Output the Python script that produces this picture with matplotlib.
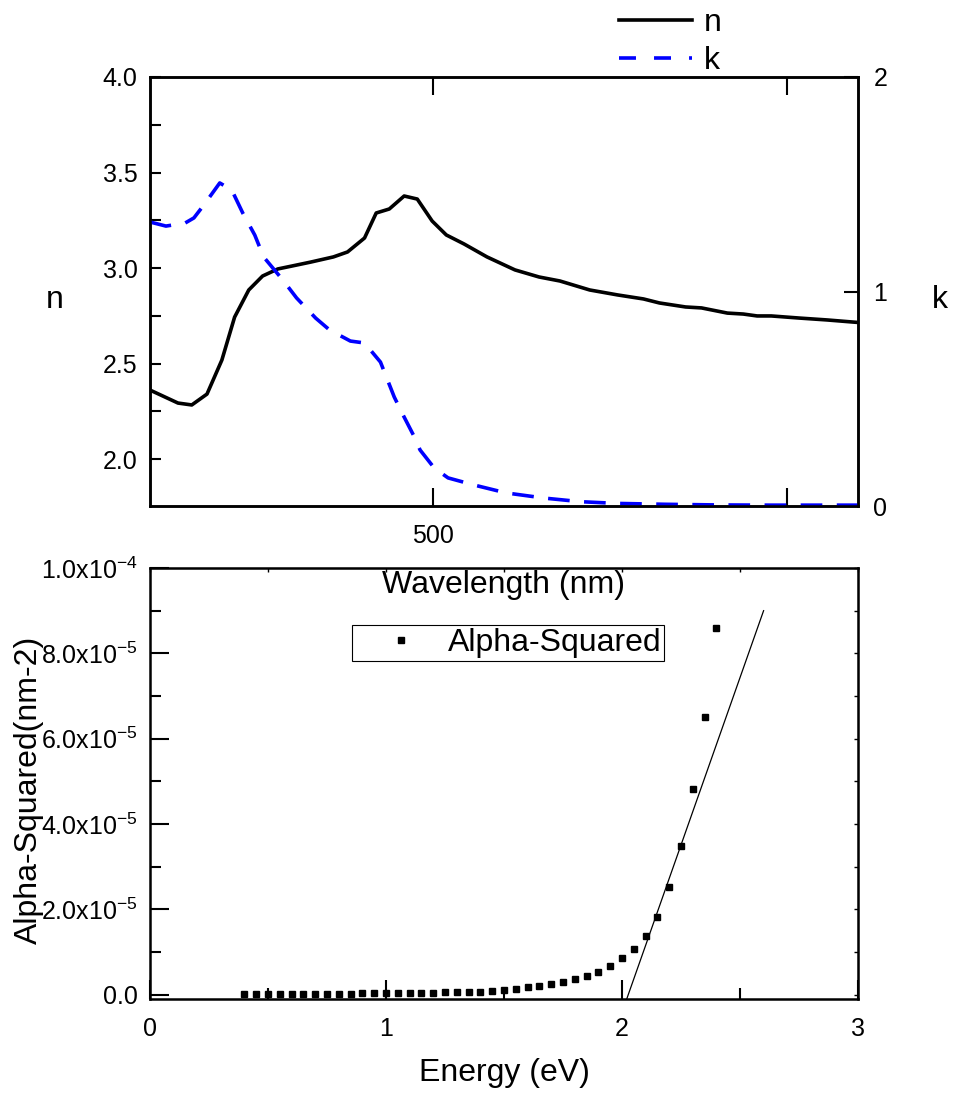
import matplotlib
matplotlib.use('Agg')
import matplotlib.pyplot as plt
from matplotlib.lines import Line2D

plt.rcParams['font.family'] = ['Liberation Sans', 'DejaVu Sans']
plt.rcParams['mathtext.default'] = 'regular'

# refractive index n vs wavelength (nm)
wl_n = [420.0, 427.9, 431.8, 436.1, 440.3, 443.9, 447.9, 451.8, 456.1, 460.0,
        465.4, 471.8, 475.8, 480.6, 483.9, 487.6, 491.8, 495.5, 499.7, 503.7,
        508.7, 515.2, 523.1, 529.9, 535.8, 544.2, 552.1, 559.4, 563.9, 571.3,
        575.8, 583.1, 587.6, 591.5, 595.5, 603.4, 611.3, 618.6, 620.0]
n_vals = [2.361, 2.293, 2.283, 2.340, 2.518, 2.743, 2.885, 2.958, 2.995, 3.010,
          3.031, 3.058, 3.084, 3.157, 3.288, 3.309, 3.377, 3.361, 3.246, 3.173,
          3.126, 3.058, 2.990, 2.953, 2.932, 2.885, 2.859, 2.838, 2.817, 2.796,
          2.791, 2.764, 2.759, 2.749, 2.749, 2.738, 2.728, 2.717, 2.715]

# extinction coefficient k vs wavelength (nm)
wl_k = [420.0, 424.5, 429.9, 432.4, 435.2, 439.7, 443.1, 446.2, 449.6, 452.1,
        457.5, 461.4, 466.8, 470.7, 476.6, 480.6, 485.1, 489.0, 491.5, 494.4,
        496.3, 500.3, 504.2, 511.5, 520.6, 531.3, 541.7, 552.1, 565.4, 580.0,
        595.0, 610.0, 620.0]
k_vals = [1.324, 1.305, 1.319, 1.343, 1.403, 1.506, 1.473, 1.366, 1.263, 1.161,
          1.054, 0.970, 0.876, 0.821, 0.769, 0.760, 0.671, 0.508, 0.424, 0.331,
          0.261, 0.177, 0.131, 0.098, 0.061, 0.037, 0.020, 0.012, 0.008, 0.005,
          0.004, 0.004, 0.004]

# alpha squared (nm^-2) vs photon energy (eV)
energy = [0.40, 0.45, 0.50, 0.55, 0.60, 0.65, 0.70, 0.75, 0.80, 0.85,
          0.90, 0.95, 1.00, 1.05, 1.10, 1.15, 1.20, 1.25, 1.30, 1.35,
          1.40, 1.45, 1.50, 1.55, 1.60, 1.65, 1.70, 1.75, 1.80, 1.85,
          1.90, 1.95, 2.00, 2.05, 2.10, 2.15, 2.20, 2.25, 2.30, 2.35, 2.40]
alpha_sq = [0.10e-6, 0.10e-6, 0.10e-6, 0.15e-6, 0.15e-6, 0.20e-6, 0.20e-6, 0.20e-6,
            0.25e-6, 0.25e-6, 0.30e-6, 0.30e-6, 0.35e-6, 0.35e-6, 0.40e-6, 0.45e-6,
            0.50e-6, 0.55e-6, 0.60e-6, 0.65e-6, 0.70e-6, 0.80e-6, 1.10e-6, 1.40e-6,
            1.90e-6, 2.10e-6, 2.60e-6, 3.10e-6, 3.80e-6, 4.50e-6, 5.40e-6, 6.80e-6,
            8.70e-6, 10.8e-6, 13.8e-6, 18.3e-6, 25.3e-6, 34.9e-6, 48.1e-6, 65.2e-6,
            86.0e-6]

# linear fit of the absorption edge
fit_energy = [2.02, 2.60]
fit_alpha = [-1.0e-6, 9.0e-5]

alpha_ticks = [0, 2e-5, 4e-5, 6e-5, 8e-5, 1e-4]
alpha_tick_labels = ['0.0', '$2.0x10^{-5}$', '$4.0x10^{-5}$', '$6.0x10^{-5}$',
                     '$8.0x10^{-5}$', '$1.0x10^{-4}$']

fig = plt.figure(figsize=(9.56, 10.99), dpi=100)
W, H = 956, 1099

# top panel: n and k
ax1 = fig.add_axes([150 / W, 1 - 506 / H, 708 / W, 429 / H])
ax1.set_zorder(2)
ax1.patch.set_visible(False)
ax1.plot(wl_n, n_vals, color='black', lw=2.6)
ax1.set_xlim(420, 620)
ax1.set_ylim(1.754, 4.0)
ax1.set_xticks([500, 600])
ax1.set_xticklabels(['500', ''])
ax1.set_yticks([2.0, 2.5, 3.0, 3.5, 4.0])
ax1.set_yticks([2.25, 2.75, 3.25, 3.75], minor=True)
ax1.tick_params(axis='y', which='both', direction='in', length=8, width=1.5,
                labelsize=18, pad=9, right=True)
ax1.tick_params(axis='x', direction='in', length=13, width=1.5, labelsize=18,
                pad=13, top=True)
ax1.set_ylabel('n', fontsize=23, rotation=0, ha='center', va='center')
ax1.yaxis.set_label_coords(-0.134, 0.48)
ax1.set_xlabel('Wavelength (nm)', fontsize=23, va='center')
ax1.xaxis.set_label_coords(0.5, -0.185)

ax2 = ax1.twinx()
ax2.plot(wl_k, k_vals, color='blue', lw=2.6, dashes=(6, 4))
ax2.set_ylim(0, 2)
ax2.set_yticks([0, 1, 2])
ax2.tick_params(axis='y', direction='in', length=10, width=1.5, labelsize=18, pad=11)
ax2.set_ylabel('k', fontsize=23, rotation=0, ha='center', va='center')
ax2.yaxis.set_label_coords(1.116, 0.48)

for ax in (ax1, ax2):
    for s in ax.spines.values():
        s.set_linewidth(1.8)

handles = [Line2D([], [], color='black', lw=2.6),
           Line2D([], [], color='blue', lw=2.6, dashes=(4.7, 5))]
fig.legend(handles, ['n', 'k'], loc='upper left', bbox_to_anchor=(619 / W, 1 - 8 / H),
           frameon=False, fontsize=23, handlelength=2.3, handletextpad=0.35,
           labelspacing=0.25, borderpad=0, borderaxespad=0)

# bottom panel: alpha squared
ax3 = fig.add_axes([150 / W, 1 - 999 / H, 708 / W, 431 / H])
ax3.set_zorder(1)
ax3.plot(energy, alpha_sq, 's', color='black', ms=4.5, label='Alpha-Squared')
ax3.plot(fit_energy, fit_alpha, color='black', lw=0.9)
ax3.set_xlim(0, 3)
ax3.set_ylim(-1e-6, 1e-4)
ax3.set_xticks([0, 1, 2, 3])
ax3.set_xticks([0.5, 1.5, 2.5], minor=True)
ax3.set_yticks(alpha_ticks)
ax3.set_yticklabels(alpha_tick_labels)
ax3.set_yticks([1e-5, 3e-5, 5e-5, 7e-5, 9e-5], minor=True)
ax3.tick_params(which='major', direction='in', length=14, width=1.5, labelsize=18)
ax3.tick_params(which='minor', direction='in', length=8, width=1.5)
ax3.tick_params(axis='x', which='major', pad=13)
ax3.tick_params(axis='y', which='major', pad=9)
for s in ax3.spines.values():
    s.set_linewidth(1.8)

# small mirrored ticks on top and right
top = ax3.secondary_xaxis('top')
top.set_xticks([0, 0.5, 1, 1.5, 2, 2.5, 3])
top.tick_params(direction='in', length=3, width=1, labeltop=False)
right = ax3.secondary_yaxis('right')
right.set_yticks([0, 1e-5, 2e-5, 3e-5, 4e-5, 5e-5, 6e-5, 7e-5, 8e-5, 9e-5, 1e-4])
right.tick_params(direction='in', length=3, width=1, labelright=False)

ax3.set_xlabel('Energy (eV)', fontsize=23, va='center')
ax3.xaxis.set_label_coords(0.5, -0.172)
ax3.set_ylabel('Alpha-Squared(nm-2)', fontsize=23, va='center')
ax3.yaxis.set_label_coords(-0.171, 0.485)
leg = ax3.legend(loc='upper left', bbox_to_anchor=(0.285, 0.868), fontsize=23,
                 handlelength=2.9, handletextpad=0.0, borderpad=0.1,
                 borderaxespad=0, fancybox=False, edgecolor='black', framealpha=1)
leg.get_frame().set_linewidth(0.8)

fig.savefig('out.png', dpi=100)
